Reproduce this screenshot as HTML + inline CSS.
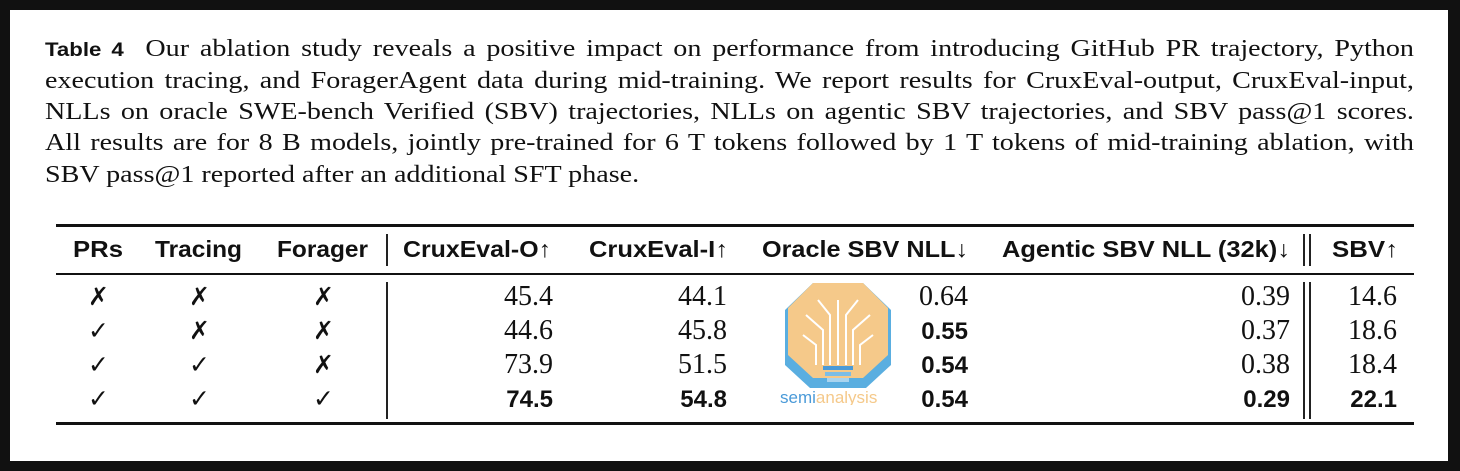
<!DOCTYPE html>
<html><head><meta charset="utf-8"><style>
html,body{margin:0;padding:0;}
body{width:1460px;height:471px;background:#111;position:relative;overflow:hidden;}
#panel{position:absolute;left:10px;top:10px;width:1438px;height:451px;background:#fff;}
.cap{position:absolute;left:45px;width:1170px;font-family:"Liberation Serif",serif;font-size:24px;color:#111;white-space:nowrap;text-align:justify;text-align-last:justify;transform:scaleX(1.17);transform-origin:0 0;}
.cap.last{text-align-last:left;}
.cap b{font-family:"Liberation Sans",sans-serif;font-size:19px;}
.rule{position:absolute;left:56px;width:1358px;background:#111;}
.vl{position:absolute;width:1.5px;background:#222;}
.t{position:absolute;white-space:nowrap;color:#111;line-height:1;}
.h{font-family:"Liberation Sans",sans-serif;font-weight:bold;font-size:23px;top:238px;transform-origin:0 0;}
.v{font-family:"Liberation Serif",serif;font-size:28px;}
.vb{font-family:"Liberation Sans",sans-serif;font-weight:bold;font-size:24px;}
.m{font-family:"DejaVu Sans",sans-serif;font-size:25px;font-weight:bold;}
</style></head><body>
<div id="panel"></div>
<div class="cap" style="top:36px"><b>Table 4</b>&nbsp; Our ablation study reveals a positive impact on performance from introducing GitHub PR trajectory, Python</div>
<div class="cap" style="top:68px">execution tracing, and ForagerAgent data during mid-training. We report results for CruxEval-output, CruxEval-input,</div>
<div class="cap" style="top:99px">NLLs on oracle SWE-bench Verified (SBV) trajectories, NLLs on agentic SBV trajectories, and SBV pass@1 scores.</div>
<div class="cap" style="top:130px">All results are for 8 B models, jointly pre-trained for 6 T tokens followed by 1 T tokens of mid-training ablation, with</div>
<div class="cap last" style="top:162px">SBV pass@1 reported after an additional SFT phase.</div>

<div class="rule" style="top:224px;height:3px"></div>
<div class="rule" style="top:273px;height:2px"></div>
<div class="rule" style="top:422px;height:3px"></div>
<div class="vl" style="left:386px;top:234px;height:32px"></div>
<div class="vl" style="left:386px;top:282px;height:137px"></div>
<div class="vl" style="left:1303px;top:234px;height:32px"></div>
<div class="vl" style="left:1309px;top:234px;height:32px"></div>
<div class="vl" style="left:1303px;top:282px;height:137px"></div>
<div class="vl" style="left:1309px;top:282px;height:137px"></div>

<div class="t h" data-w="50" style="left:73px">PRs</div>
<div class="t h" data-w="87" style="left:155px">Tracing</div>
<div class="t h" data-w="91" style="left:277px">Forager</div>
<div class="t h" data-w="148" style="left:403px">CruxEval-O↑</div>
<div class="t h" data-w="139" style="left:589px">CruxEval-I↑</div>
<div class="t h" data-w="206" style="left:762px">Oracle SBV NLL↓</div>
<div class="t h" data-w="288" style="left:1002px">Agentic SBV NLL (32k)↓</div>
<div class="t h" data-w="66" style="left:1332px">SBV↑</div>

<svg style="position:absolute;left:778px;top:280px" width="120" height="125">
<polygon points="35,3 85,3 113,30 113,85 88,108 32,108 7,85 7,30" fill="#5aaee0"/>
<polygon points="35,3 85,3 110,28 110,75 85,98 35,98 10,75 10,28" fill="#f5c98a"/>
<g stroke="#fff" stroke-width="2" fill="none">
<path d="M60,85 V20 M52,85 V35 L40,20 M68,85 V35 L80,20 M45,85 V50 L28,35 M75,85 V50 L92,35 M38,85 V65 L25,55 M82,85 V65 L95,55"/>
</g>
<rect x="45" y="86" width="30" height="4" fill="#4a9ad8"/>
<rect x="47" y="92" width="26" height="4" fill="#7cbde6"/>
<rect x="49" y="98" width="22" height="4" fill="#a9d4ef"/>
<text x="2" y="123" font-family="Liberation Sans,sans-serif" font-size="17" fill="#4a9ad8">semi<tspan fill="#f5c98a">analysis</tspan></text>
</svg>

<div id="rows"></div>
<script>
const prs=["x","c","c","c"];
const tracing=["x","x","c","c"];
const forager=["x","x","x","c"];
const cruxO=["45.4","44.6","73.9","74.5"];
const cruxI=["44.1","45.8","51.5","54.8"];
const oracle=["0.64","0.55","0.54","0.54"];
const agentic=["0.39","0.37","0.38","0.29"];
const sbv=["14.6","18.6","18.4","22.1"];
const oracleBold=[false,true,true,true];
const lastBold=[false,false,false,true];
const rowTop=[283,317,351,385];
const root=document.getElementById('rows');
document.querySelectorAll('.h').forEach(function(h){
  const target=+h.getAttribute('data-w');
  const w=h.getBoundingClientRect().width;
  h.style.transform='scaleX('+(target/w)+')';
});
function mark(v,cx,top,name){
  const d=document.createElement('div');
  d.className='t m';
  d.textContent=v==='c'?'✓':'✗';
  d.style.left=(cx-9)+'px';d.style.top=(top+1)+'px';
  
  
  root.appendChild(d);
}
function num(v,right,top,bold,name){
  const d=document.createElement('div');
  d.className='t '+(bold?'vb':'v');
  d.textContent=v;
  d.style.right=(1460-right)+'px';d.style.top=(top+(bold?3:0))+'px';
  
  
  root.appendChild(d);
}
for(let i=0;i<4;i++){
  const y=rowTop[i];
  mark(prs[i],97,y,'prs-mark');
  mark(tracing[i],198,y,'tracing-mark');
  mark(forager[i],322,y,'forager-mark');
  num(cruxO[i],553,y,lastBold[i],'cruxeval-o-value');
  num(cruxI[i],727,y,lastBold[i],'cruxeval-i-value');
  num(oracle[i],968,y,oracleBold[i],'oracle-nll-value');
  num(agentic[i],1290,y,lastBold[i],'agentic-nll-value');
  num(sbv[i],1397,y,lastBold[i],'sbv-value');
}
</script>
</body></html>
